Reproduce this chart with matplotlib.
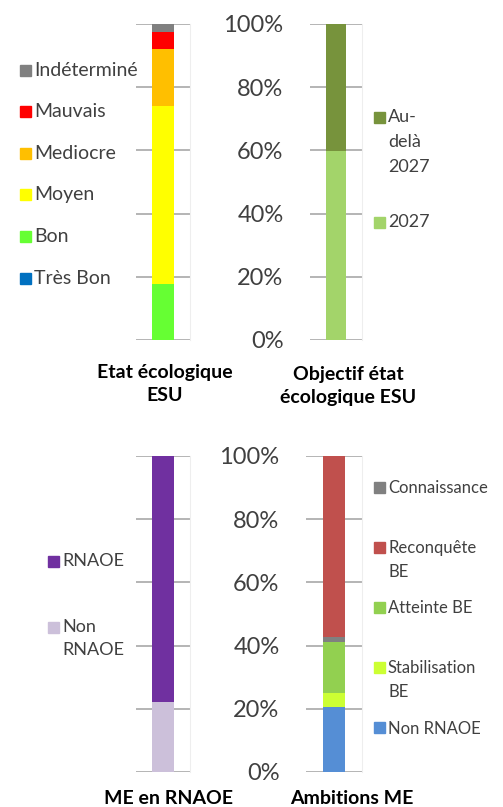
import matplotlib
matplotlib.use("Agg")
import matplotlib.pyplot as plt
from matplotlib.patches import Rectangle

plt.rcParams['font.family'] = ['Lato', 'DejaVu Sans']

W, H = 503, 807

# --- data (percent, stacked bottom -> top) ---
etat_labels = ['Très Bon', 'Bon', 'Moyen', 'Mediocre', 'Mauvais', 'Indéterminé']
etat_values = [0.0, 17.7, 56.4, 18.0, 5.3, 2.6]
etat_colors = ['#0070c0', '#66ff33', '#ffff00', '#ffbf00', '#ff0000', '#808080']

objectif_labels = ['2027', 'Au-\ndelà\n2027']
objectif_values = [59.8, 40.2]
objectif_colors = ['#a3d46a', '#77933c']

rnaoe_labels = ['Non\nRNAOE', 'RNAOE']
rnaoe_values = [22.2, 77.8]
rnaoe_colors = ['#ccc0da', '#7030a0']

# bar stacking order differs from legend order in the source chart
amb_stack_labels = ['Non RNAOE', 'Stabilisation\nBE', 'Atteinte BE', 'Connaissance', 'Reconquête\nBE']
amb_stack_values = [20.6, 4.4, 16.0, 1.8, 57.2]
amb_colors = {'Non RNAOE': '#558ed5', 'Stabilisation\nBE': '#ccff33', 'Atteinte BE': '#92d050',
              'Connaissance': '#808080', 'Reconquête\nBE': '#c0504d'}
amb_legend = ['Connaissance', 'Reconquête\nBE', 'Atteinte BE', 'Stabilisation\nBE', 'Non RNAOE']

ticks = [0, 20, 40, 60, 80, 100]
tick_labels = ['0%', '20%', '40%', '60%', '80%', '100%']

fig = plt.figure(figsize=(W / 100, H / 100), dpi=100)
fig.patch.set_facecolor('white')


def px_axes(x0, y0, x1, y1):
    return fig.add_axes([x0 / W, 1 - y1 / H, (x1 - x0) / W, (y1 - y0) / H])


def stacked(ax, values, colors, show_ticks):
    bottom = 0
    for v, c in zip(values, colors):
        ax.bar(0, v, bottom=bottom, width=0.39, color=c, zorder=3)
        bottom += v
    ax.set_xlim(-0.5, 0.5)
    ax.set_ylim(0, 100)
    ax.set_xticks([])
    ax.set_yticks(ticks)
    ax.yaxis.grid(True, color='#a0a0a0', linewidth=1.1, zorder=0)
    for s in ['top', 'left', 'bottom']:
        ax.spines[s].set_visible(False)
    ax.spines['right'].set_color('#eeeeee')
    if show_ticks:
        ax.set_yticklabels(tick_labels, fontsize=17, color='#404040')
        ax.tick_params(axis='y', length=0, pad=19)
    else:
        ax.set_yticklabels([])
        ax.tick_params(axis='y', length=0)


def legend(x, y_first, step, labels, colors, fs, ls=1.6):
    for i, (lab, c) in enumerate(zip(labels, colors)):
        y = y_first + i * step
        fig.patches.append(Rectangle(((x) / W, 1 - (y + 5.5) / H), 11 / W, 11 / H,
                                     transform=fig.transFigure, color=c, figure=fig))
        # first line of text centred on the marker
        fig.text((x + 14) / W, 1 - (y - fs * 0.6) / H, lab, fontsize=fs, color='#404040',
                 ha='left', va='top', linespacing=ls)


ax1 = px_axes(136, 24, 190, 340)
stacked(ax1, etat_values, etat_colors, False)
ax2 = px_axes(310, 24, 362, 340)
stacked(ax2, objectif_values, objectif_colors, True)
ax3 = px_axes(136, 456, 190, 772)
stacked(ax3, rnaoe_values, rnaoe_colors, False)
ax4 = px_axes(306, 456, 362, 772)
stacked(ax4, amb_stack_values, [amb_colors[l] for l in amb_stack_labels], True)

legend(20, 70, 41.6, etat_labels[::-1], etat_colors[::-1], 14)
legend(374, 117, 105, objectif_labels[::-1], objectif_colors[::-1], 13, 1.67)
legend(48, 561, 66, rnaoe_labels[::-1], rnaoe_colors[::-1], 13, 1.55)
legend(374, 487, 60.2, amb_legend, [amb_colors[l] for l in amb_legend], 12, 1.6)

title_kw = dict(fontsize=14, fontweight='bold', ha='center', va='center', linespacing=1.45, color='black')
fig.text(165 / W, 1 - 384 / H, 'Etat écologique\nESU', **title_kw)
fig.text(348 / W, 1 - 386 / H, 'Objectif état\nécologique ESU', **title_kw)
fig.text(168 / W, 1 - 798 / H, 'ME en RNAOE', **title_kw)
fig.text(352 / W, 1 - 798 / H, 'Ambitions ME', **title_kw)

fig.savefig('out.png', dpi=100)
